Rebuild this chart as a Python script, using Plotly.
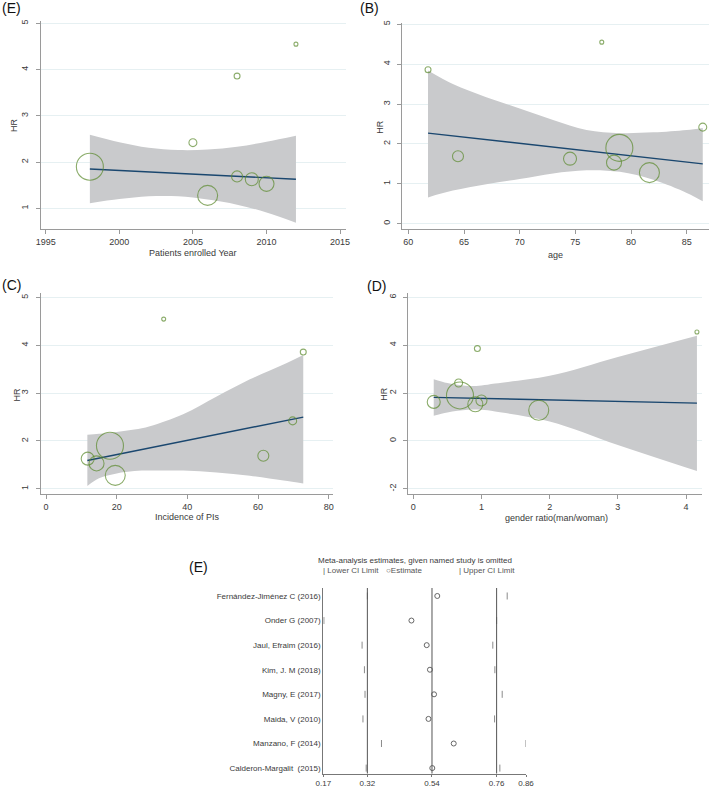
import plotly.graph_objects as go

W, H = 709, 788

# ---------------- data: 8 studies ----------------
hr = [1.90, 1.28, 1.53, 1.63, 1.69, 2.42, 3.86, 4.55]
weight_pct = [41.4, 22.7, 12.8, 9.6, 6.9, 3.6, 2.0, 0.9]
year = [1998, 2006, 2010, 2009, 2008, 2005, 2008, 2012]
age = [78.95, 81.65, 78.47, 74.52, 64.46, 86.44, 61.77, 77.37]
incidence = [18.1, 19.6, 14.3, 11.8, 61.5, 69.8, 72.8, 33.3]
gender_ratio = [0.685, 1.84, 0.91, 0.30, 1.00, 0.665, 0.94, 4.16]

# fitted meta-regression lines (end points) and confidence bands
fit_year_x = [1998, 2012]
fit_year_y = [1.85, 1.63]
band_year_x = [1998, 2000, 2002, 2004, 2006, 2008, 2010, 2012]
band_year_hi = [2.59, 2.43, 2.31, 2.26, 2.27, 2.33, 2.44, 2.57]
band_year_lo = [1.11, 1.20, 1.26, 1.26, 1.19, 1.08, 0.91, 0.69]

fit_age_x = [61.77, 86.44]
fit_age_y = [2.27, 1.50]
band_age_x = [61.77, 64, 67, 70, 73, 76, 79, 82, 85, 86.44]
band_age_hi = [3.84, 3.50, 3.17, 2.89, 2.60, 2.35, 2.27, 2.29, 2.35, 2.40]
band_age_lo = [0.66, 0.83, 0.99, 1.12, 1.26, 1.34, 1.30, 1.10, 0.77, 0.56]

fit_inc_x = [11.7, 72.8]
fit_inc_y = [1.59, 2.50]
band_inc_x = [11.7, 15, 20, 25, 29.4, 38.8, 48.3, 57.7, 67.2, 72.8]
band_inc_hi = [2.13, 2.15, 2.19, 2.24, 2.31, 2.56, 2.93, 3.29, 3.60, 3.80]
band_inc_lo = [1.06, 1.22, 1.32, 1.37, 1.38, 1.38, 1.34, 1.27, 1.17, 1.11]

fit_gen_x = [0.30, 4.16]
fit_gen_y = [1.82, 1.58]
band_gen_x = [0.30, 0.5, 0.8, 1.0, 1.2, 2.0, 3.0, 4.16]
band_gen_hi = [2.58, 2.42, 2.30, 2.32, 2.40, 2.72, 3.51, 4.40]
band_gen_lo = [1.05, 1.19, 1.30, 1.30, 1.23, 0.81, -0.17, -1.26]

# leave-one-out sensitivity analysis
studies = ["Fernández-Jiménez C (2016)", "Onder G (2007)", "Jaul, Efraim (2016)",
           "Kim, J. M (2018)", "Magny, E (2017)", "Maida, V (2010)",
           "Manzano, F (2014)", "Calderon-Margalit  (2015)"]
loo_est = [0.558, 0.470, 0.522, 0.533, 0.547, 0.528, 0.614, 0.541]
loo_lo = [0.320, 0.172, 0.302, 0.310, 0.312, 0.305, 0.368, 0.316]
loo_hi = [0.796, 0.760, 0.747, 0.754, 0.779, 0.753, 0.860, 0.771]
pooled = [0.32, 0.54, 0.76]
loo_ticks = [0.17, 0.32, 0.54, 0.76, 0.86]

# ---------------- styling ----------------
FONT = "Liberation Sans, Arial, sans-serif"
GREEN = "#5b8a2e"
NAVY = "#1a476f"
BAND = "#c9cacc"
GRID = "#e6f0f2"
AXC = "#9a9a9a"
TXT = "#3a3a3a"

max_d = 27.0
msize = [max_d * (w / max(weight_pct)) ** 0.5 for w in weight_pct]

fig = go.Figure()


def dx(a, b):
    return [a / W, b / W]


def dy(top, bottom):
    return [1 - bottom / H, 1 - top / H]


panels = [
    dict(n="", xs=year, fx=fit_year_x, fy=fit_year_y, bx=band_year_x, bh=band_year_hi, bl=band_year_lo,
         xpx=(40.7, 346), ypx=(21, 228.7), xr=[1994.66, 2015.4], yr=[0.56, 5.05],
         xt=[1995, 2000, 2005, 2010, 2015], yt=[1, 2, 3, 4, 5]),
    dict(n="2", xs=age, fx=fit_age_x, fy=fit_age_y, bx=band_age_x, bh=band_age_hi, bl=band_age_lo,
         xpx=(402.3, 709), ypx=(23, 229.3), xr=[59.46, 87.0], yr=[-0.14, 5.03],
         xt=[60, 65, 70, 75, 80, 85], yt=[0, 1, 2, 3, 4, 5]),
    dict(n="3", xs=incidence, fx=fit_inc_x, fy=fit_inc_y, bx=band_inc_x, bh=band_inc_hi, bl=band_inc_lo,
         xpx=(40.7, 333.3), ypx=(293.3, 494), xr=[-1.5, 81.3], yr=[0.89, 5.09],
         xt=[0, 20, 40, 60, 80], yt=[1, 2, 3, 4, 5]),
    dict(n="4", xs=gender_ratio, fx=fit_gen_x, fy=fit_gen_y, bx=band_gen_x, bh=band_gen_hi, bl=band_gen_lo,
         xpx=(408.3, 701.7), ypx=(293.3, 494), xr=[-0.073, 4.23], yr=[-2.22, 6.17],
         xt=[0, 1, 2, 3, 4], yt=[-2, 0, 2, 4, 6]),
]

layout_axes = {}
for p in panels:
    xa, ya = "x" + p["n"], "y" + p["n"]
    fig.add_trace(go.Scatter(x=p["bx"], y=p["bl"], mode="lines", line=dict(width=0, shape="spline", color=BAND),
                             xaxis=xa, yaxis=ya, showlegend=False, hoverinfo="skip"))
    fig.add_trace(go.Scatter(x=p["bx"], y=p["bh"], mode="lines", line=dict(width=0, shape="spline", color=BAND),
                             fill="tonexty", fillcolor=BAND, xaxis=xa, yaxis=ya, showlegend=False, hoverinfo="skip"))
    fig.add_trace(go.Scatter(x=p["fx"], y=p["fy"], mode="lines", line=dict(width=1.4, color=NAVY),
                             xaxis=xa, yaxis=ya, showlegend=False))
    fig.add_trace(go.Scatter(x=p["xs"], y=hr, mode="markers",
                             marker=dict(symbol="circle-open", size=msize, color=GREEN, line=dict(width=1.1, color=GREEN)),
                             xaxis=xa, yaxis=ya, showlegend=False))
    common = dict(showline=True, linecolor=AXC, linewidth=1, ticks="outside", ticklen=4, tickcolor=AXC,
                  tickwidth=1, zeroline=False, automargin=False,
                  tickfont=dict(family=FONT, size=9, color=TXT))
    layout_axes["xaxis" + p["n"]] = dict(domain=dx(*p["xpx"]), range=p["xr"], anchor=ya,
                                         tickvals=p["xt"], ticktext=[str(v) for v in p["xt"]],
                                         showgrid=False, **common)
    layout_axes["yaxis" + p["n"]] = dict(domain=dy(*p["ypx"]), range=p["yr"], anchor=xa,
                                         tickvals=p["yt"], ticktext=[str(v) for v in p["yt"]],
                                         tickangle=-90, ticklabelstandoff=4,
                                         showgrid=True, gridcolor=GRID, gridwidth=1, **common)

# ---------------- leave-one-out panel ----------------
rows = list(range(len(studies)))
fig.add_trace(go.Scatter(x=loo_lo, y=rows, mode="markers", xaxis="x5", yaxis="y5", showlegend=False,
                         marker=dict(symbol="line-ns", size=5, line=dict(width=1, color="#8a8a8a"))))
fig.add_trace(go.Scatter(x=loo_hi, y=rows, mode="markers", xaxis="x5", yaxis="y5", showlegend=False,
                         marker=dict(symbol="line-ns", size=5, line=dict(width=1, color="#8a8a8a"))))
fig.add_trace(go.Scatter(x=loo_est, y=rows, mode="markers", xaxis="x5", yaxis="y5", showlegend=False,
                         marker=dict(symbol="circle-open", size=5, color="#666666", line=dict(width=1, color="#666666"))))

layout_axes["xaxis5"] = dict(domain=dx(323.3, 526), range=[0.17, 0.86], anchor="y5",
                             tickvals=loo_ticks, ticktext=["%.2f" % v for v in loo_ticks],
                             showline=True, linecolor="#777777", linewidth=1, ticks="outside", ticklen=2,
                             tickcolor="#777777", showgrid=False, zeroline=False, automargin=False,
                             tickfont=dict(family=FONT, size=8, color=TXT))
layout_axes["yaxis5"] = dict(domain=dy(588, 773.5), range=[7.22, -0.324], anchor="x5",
                             tickvals=rows, ticktext=studies, showline=True, linecolor="#777777",
                             linewidth=1, ticks="", showgrid=False, zeroline=False, automargin=False,
                             tickfont=dict(family=FONT, size=8, color=TXT))

shapes = []
for v in pooled:
    shapes.append(dict(type="line", xref="x5", yref="y5 domain", x0=v, x1=v, y0=0, y1=1,
                       line=dict(color="#555555", width=1)))


def ann(text, px, py, size=9, xanchor="center", angle=0, color=TXT):
    return dict(text=text, x=px / W, y=1 - py / H, xref="paper", yref="paper", showarrow=False,
                xanchor=xanchor, yanchor="middle", textangle=angle,
                font=dict(family=FONT, size=size, color=color))


annotations = [
    ann("(E)", 0, 7.5, size=14, xanchor="left", color="#111111"),
    ann("(B)", 358, 8, size=14, xanchor="left", color="#111111"),
    ann("(C)", 0, 285, size=14, xanchor="left", color="#111111"),
    ann("(D)", 365, 286, size=14, xanchor="left", color="#111111"),
    ann("(E)", 187, 567, size=14, xanchor="left", color="#111111"),
    ann("HR", 14, 125, angle=-90),
    ann("Patients enrolled Year", 193, 252.7),
    ann("HR", 379.3, 126.5, angle=-90),
    ann("age", 555.7, 254.5),
    ann("HR", 16.5, 395, angle=-90),
    ann("Incidence of PIs", 187.7, 516.7),
    ann("HR", 383.3, 393.5, angle=-90),
    ann("gender ratio(man/woman)", 556, 518.3),
    ann("Meta-analysis estimates, given named study is omitted", 415, 560, size=8),
    ann("| Lower CI Limit", 321, 570.5, size=8, xanchor="left", color="#555555"),
    ann("○Estimate", 384, 570.5, size=8, xanchor="left", color="#555555"),
    ann("| Upper CI Limit", 457, 570.5, size=8, xanchor="left", color="#555555"),
]

fig.update_layout(width=W, height=H, margin=dict(l=0, r=0, t=0, b=0, autoexpand=False),
                  paper_bgcolor="white", plot_bgcolor="white", showlegend=False,
                  shapes=shapes, annotations=annotations, **layout_axes)

fig.write_html("out.html", config={"displayModeBar": False},
               post_script="document.body.style.margin='0';document.body.style.padding='0';"
                           "document.body.style.overflow='hidden';")
